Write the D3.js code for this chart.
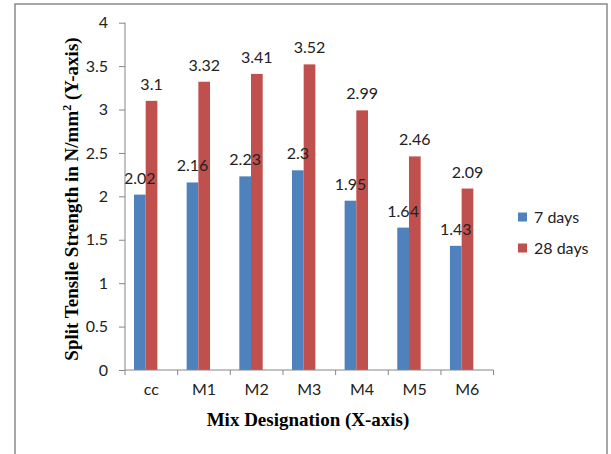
<!DOCTYPE html>
<html>
<head>
<meta charset="utf-8">
<script src="https://cdn.jsdelivr.net/npm/d3@7"></script>
<style>
  html, body { margin: 0; padding: 0; background: #fff; }
  svg { display: block; }
</style>
</head>
<body>
<svg id="chart" width="611" height="454"></svg>
<script>
const categories = ["cc", "M1", "M2", "M3", "M4", "M5", "M6"];
const seriesNames = ["7 days", "28 days"];
const days7 = [2.02, 2.16, 2.23, 2.3, 1.95, 1.64, 1.43];
const days28 = [3.1, 3.32, 3.41, 3.52, 2.99, 2.46, 2.09];
const yTicks = [0, 0.5, 1, 1.5, 2, 2.5, 3, 3.5, 4];
const colors = ["#4F81BD", "#C0504D"];
const yTitle = "Split Tensile Strength in N/mm";
const xTitle = "Mix Designation (X-axis)";

const seriesValues = [days7, days28];
const svg = d3.select("#chart");
const axisColor = "#868686";
const labelFont = "Lato, 'Open Sans', sans-serif";

// outer frame
svg.append("rect")
  .attr("x", 15).attr("y", 4).attr("width", 592).attr("height", 470)
  .attr("fill", "none").attr("stroke", "#8a8a8a").attr("stroke-width", 1.5);

const plotLeft = 125, plotRight = 493.6, plotTop = 22.7, plotBottom = 370;

const x = d3.scaleBand().domain(categories).range([plotLeft, plotRight]).padding(0);
const bw = x.bandwidth();
const x1 = d3.scaleBand().domain(seriesNames).range([bw * 0.171, bw * 0.171 + bw * 0.444]).padding(0);
const y = d3.scaleLinear().domain([0, 4]).range([plotBottom, plotTop]);

// bars
const barLayer = svg.append("g");
const labelLayer = svg.append("g");
seriesNames.forEach((s, si) => {
  barLayer.append("g").selectAll("rect").data(categories).enter().append("rect")
    .attr("x", (c) => x(c) + x1(s))
    .attr("width", x1.bandwidth())
    .attr("y", (c, i) => y(seriesValues[si][i]))
    .attr("height", (c, i) => y(0) - y(seriesValues[si][i]))
    .attr("fill", colors[si]);
  labelLayer.append("g").selectAll("text").data(categories).enter().append("text")
    .attr("x", (c) => x(c) + x1(s) + x1.bandwidth() / 2)
    .attr("y", (c, i) => y(seriesValues[si][i]) - 11)
    .attr("text-anchor", "middle")
    .attr("font-family", labelFont)
    .attr("font-size", 16)
    .attr("fill", "#222")
    .text((c, i) => seriesValues[si][i]);
});

// y axis
const yAxis = d3.axisLeft(y).tickValues(yTicks).tickSize(6).tickPadding(11).tickFormat(d3.format("~g"));
const gy = svg.append("g").attr("transform", `translate(${plotLeft},0)`).call(yAxis);
gy.select(".domain").attr("stroke", axisColor).attr("d", `M0,${plotTop}V${plotBottom}`);
gy.selectAll(".tick line").attr("stroke", axisColor);
gy.selectAll(".tick text").attr("font-family", labelFont).attr("font-size", 16).attr("fill", "#222");

// x axis
const xAxis = d3.axisBottom(x).tickSize(0).tickPadding(14);
const gx = svg.append("g").attr("transform", `translate(0,${plotBottom})`).call(xAxis);
gx.select(".domain").attr("stroke", axisColor).attr("d", `M${plotLeft},0H${plotRight}`);
gx.selectAll(".tick text").attr("font-family", labelFont).attr("font-size", 16).attr("fill", "#222");
// boundary tick marks
const bounds = categories.map((c) => x(c)).concat([plotRight]);
gx.selectAll("line.bound").data(bounds).enter().append("line")
  .attr("class", "bound")
  .attr("x1", (d) => d).attr("x2", (d) => d)
  .attr("y1", 0).attr("y2", 5)
  .attr("stroke", axisColor);

// axis titles
const yt = svg.append("text")
  .attr("transform", "translate(78,199) rotate(-90)")
  .attr("text-anchor", "middle")
  .attr("font-family", "'Liberation Serif', 'Times New Roman', serif")
  .attr("font-weight", "bold")
  .attr("font-size", 19)
  .attr("fill", "#000");
yt.append("tspan").text(yTitle);
yt.append("tspan").attr("font-size", 12).attr("dy", -7).text("2");
yt.append("tspan").attr("dy", 7).text(" (Y-axis)");

svg.append("text")
  .attr("x", 308).attr("y", 426)
  .attr("text-anchor", "middle")
  .attr("font-family", "'Liberation Serif', 'Times New Roman', serif")
  .attr("font-weight", "bold")
  .attr("font-size", 19)
  .attr("fill", "#000")
  .text(xTitle);

// legend
const legendY = [217, 248];
const lg = svg.append("g");
seriesNames.forEach((s, i) => {
  lg.append("rect").attr("x", 518).attr("y", legendY[i] - 4.5).attr("width", 9).attr("height", 9).attr("fill", colors[i]);
  lg.append("text").attr("x", 534).attr("y", legendY[i]).attr("dy", "0.35em")
    .attr("font-family", labelFont).attr("font-size", 16).attr("fill", "#222").text(s);
});
</script>
</body>
</html>
